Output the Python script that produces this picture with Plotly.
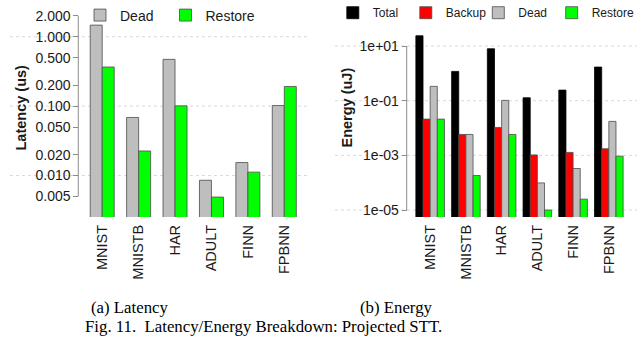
import plotly.graph_objects as go

# ---------------- data ----------------
categories = ["MNIST", "MNISTB", "HAR", "ADULT", "FINN", "FPBNN"]

lat_dead = [1.47, 0.0687, 0.472, 0.00855, 0.0154, 0.102]
lat_restore = [0.366, 0.0226, 0.101, 0.0049, 0.0112, 0.192]

en_total = [23.8, 1.18, 7.96, 0.128, 0.244, 1.70]
en_backup = [0.0212, 0.00582, 0.0105, 0.00104, 0.00128, 0.00174]
en_dead = [0.334, 0.00582, 0.1026, 9.8e-5, 3.3e-4, 0.0175]
en_restore = [0.0212, 1.83e-4, 0.00582, 1.0e-5, 2.5e-5, 9.3e-4]

lat_tickvals = [2, 1, 0.5, 0.2, 0.1, 0.05, 0.02, 0.01, 0.005]
lat_ticktext = ["2.000", "1.000", "0.500", "0.200", "0.100", "0.050", "0.020", "0.010", "0.005"]
lat_gridvals = [1, 0.1, 0.01]

en_tickvals = [10, 0.1, 0.001, 1e-5]
en_ticktext = ["1e+01", "1e-01", "1e-03", "1e-05"]
en_gridvals = [10, 0.1, 0.001, 1e-5]

# ---------------- style ----------------
W, H = 641, 339
FONT = "Liberation Sans, Arial, sans-serif"
SERIF = "Liberation Serif, Times New Roman, serif"
GRAY = "#bebebe"
GREEN = "#00ff00"
RED = "#ff0000"
BLACK = "#000000"
EDGE = "#4d4d4d"
TXT = "#1a1a1a"
FS = 14
FS_X = 14.5


def px(p):
    return p / W


def py(p):
    return 1 - p / H


fig = go.Figure()

# each legend entry gets its own legend box so it can sit where the reference puts it
# (legend id, pixel x of box, pixel y of centre, font size)
left_specs = [("Dead", lat_dead, GRAY, -0.33, "legend", 80, 15.5, 14),
              ("Restore", lat_restore, GREEN, 0.0, "legend2", 165.5, 15.5, 14)]
right_specs = [("Total", en_total, BLACK, -0.4, "legend3", 332.8, 12.7, 12),
               ("Backup", en_backup, RED, -0.2, "legend4", 405.8, 12.7, 12),
               ("Dead", en_dead, GRAY, 0.0, "legend5", 478.3, 12.7, 12),
               ("Restore", en_restore, GREEN, 0.2, "legend6", 551.7, 12.7, 12)]

legends = {}
for name, vals, col, off, lg, lx, ly, lf in left_specs:
    fig.add_trace(go.Bar(
        x=categories, y=vals, name=name, xaxis="x", yaxis="y",
        width=0.33, offset=off, legend=lg,
        marker=dict(color=col, line=dict(color=EDGE, width=0.8)),
    ))
    legends[lg] = (lx, ly, lf)

for name, vals, col, off, lg, lx, ly, lf in right_specs:
    fig.add_trace(go.Bar(
        x=categories, y=vals, name=name, xaxis="x2", yaxis="y2",
        width=0.2, offset=off, legend=lg,
        marker=dict(color=col, line=dict(color=EDGE if col != BLACK else BLACK, width=0.8)),
    ))
    legends[lg] = (lx, ly, lf)

legend_layout = {}
for lg, (lx, ly, lf) in legends.items():
    legend_layout[lg] = dict(orientation="h", x=px(lx), y=py(ly), xanchor="left", yanchor="middle",
                             bgcolor="rgba(0,0,0,0)", borderwidth=0,
                             font=dict(family=FONT, size=lf, color=TXT))

shapes = []
# R-style axis lines spanning first to last tick
shapes.append(dict(type="line", xref="paper", yref="y", x0=px(78.3), x1=px(78.3),
                   y0=min(lat_tickvals), y1=max(lat_tickvals), line=dict(color="#8c8c8c", width=1)))
shapes.append(dict(type="line", xref="paper", yref="y2", x0=px(406.7), x1=px(406.7),
                   y0=min(en_tickvals), y1=max(en_tickvals), line=dict(color="#8c8c8c", width=1)))
for v in lat_gridvals:
    shapes.append(dict(type="line", xref="paper", yref="y", x0=px(10), x1=px(310), y0=v, y1=v,
                       layer="below", line=dict(color="#d9d9d9", width=1, dash="dot")))
for v in en_gridvals:
    shapes.append(dict(type="line", xref="paper", yref="y2", x0=px(335), x1=px(637), y0=v, y1=v,
                       layer="below", line=dict(color="#d9d9d9", width=1, dash="dot")))


def ann(text, x, y, family, size, angle=0):
    return dict(text=text, x=px(x), y=py(y), xref="paper", yref="paper", xanchor="center",
                yanchor="middle", textangle=angle, showarrow=False,
                font=dict(family=family, size=size, color=TXT if family == FONT else "black"))


annotations = [
    ann("<b>Latency (us)</b>", 21, 107.5, FONT, 14.5, -90),
    ann("<b>Energy (uJ)</b>", 347, 107.5, FONT, 14.5, -90),
    ann("(a) Latency", 129, 307, SERIF, 16.8),
    ann("(b) Energy", 396, 307, SERIF, 16.8),
    ann("Fig. 11.  Latency/Energy Breakdown: Projected STT.", 263, 326.7, SERIF, 16.8),
]

common_x = dict(type="category", range=[-0.5, 5.5], tickangle=-90, ticks="", showline=False,
                showgrid=False, zeroline=False, automargin=False, ticklabelstandoff=4,
                tickfont=dict(family=FONT, size=FS_X, color=TXT))
common_y = dict(type="log", anchor="free", ticks="outside", ticklen=5, tickcolor="#8c8c8c",
                showgrid=False, zeroline=False, showline=False, automargin=False,
                tickfont=dict(family=FONT, size=FS, color=TXT))

fig.update_layout(
    width=W, height=H, margin=dict(l=0, r=0, t=0, b=0, autoexpand=False),
    paper_bgcolor="white", plot_bgcolor="white",
    barmode="overlay", showlegend=True,
    font=dict(family=FONT, size=FS, color=TXT),
    xaxis=dict(domain=[px(84), px(302.5)], anchor="y", **common_x),
    yaxis=dict(domain=[py(217), py(10)], range=[-2.597, 0.385], position=px(78.3),
               tickvals=lat_tickvals, ticktext=lat_ticktext, **common_y),
    xaxis2=dict(domain=[px(412.3), px(626.7)], anchor="y2", **common_x),
    yaxis2=dict(domain=[py(217), py(10)], range=[-5.256, 2.319], position=px(406.7),
                tickvals=en_tickvals, ticktext=en_ticktext, **common_y),
    shapes=shapes, annotations=annotations,
    **legend_layout,
)

fig.write_html("out.html", config={"displayModeBar": False},
               post_script="document.body.style.margin='0px';")
